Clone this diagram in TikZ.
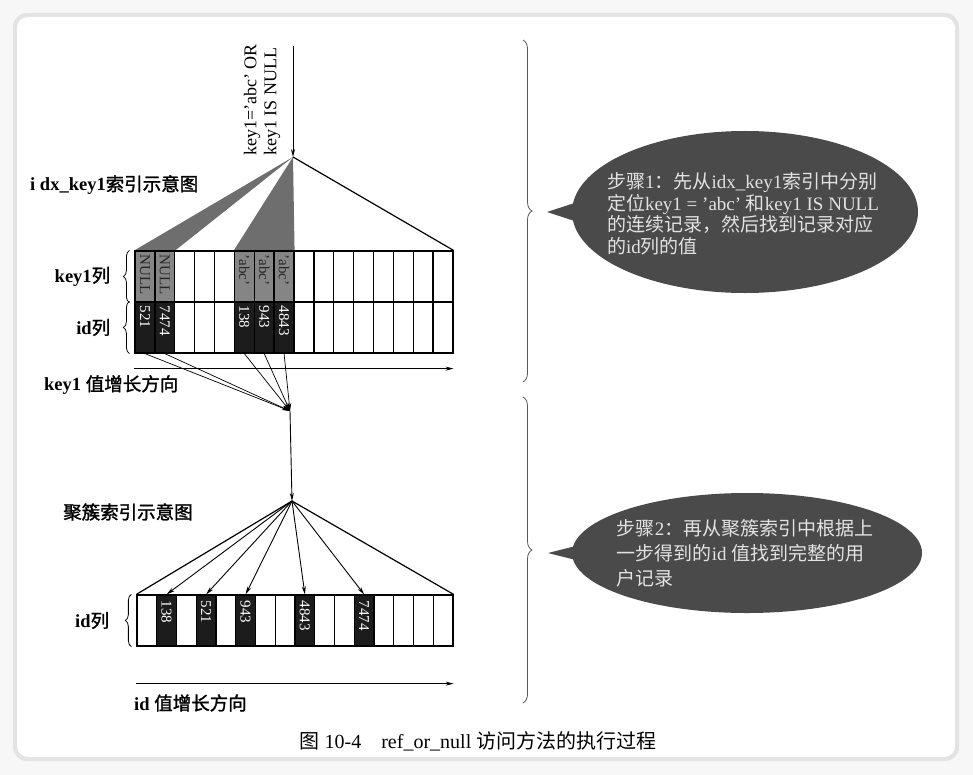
\documentclass[tikz,border=0pt]{standalone}
\usepackage{fontspec}
\setmainfont{Liberation Serif}
\newfontfamily\zh{Noto Sans CJK SC}[AutoFakeBold=1.5]
\usetikzlibrary{positioning,arrows.meta,shapes.callouts,decorations.pathreplacing}

\definecolor{keygray}{HTML}{858585}
\definecolor{idblack}{HTML}{1C1C1C}
\definecolor{wedgegray}{HTML}{6E6E6E}
\definecolor{bubble}{HTML}{4A4A4A}
\definecolor{bubbletext}{HTML}{E2E2E2}

\tikzset{
  cell/.style={draw, line width=1.2pt, minimum width=19.8pt, minimum height=51pt, inner sep=0pt},
  vtext/.style={rotate=-90, anchor=west, inner sep=0pt, font=\fontsize{15}{15}\selectfont},
  lbl/.style={font=\fontsize{18.5}{22}\selectfont\bfseries, inner sep=0pt},
  lcurly/.style={decorate, decoration={brace, amplitude=6pt}, line width=0.8pt},
  rcurly/.style={decorate, decoration={brace, amplitude=9pt}, line width=0.8pt, gray!70!black},
  bubblebox/.style={ellipse callout, fill=bubble, inner sep=0pt, callout pointer arc=12},
  bubbletxt/.style={align=left, text=bubbletext, inner sep=0pt}
}

\begin{document}
\begin{tikzpicture}[x=1pt, y=-1pt, >={Stealth[length=8pt,width=4pt]}]
\useasboundingbox (0,0) rectangle (973,775);
% frame
\fill[gray!6] (0,0) rectangle (973,775);
\fill[gray!22, rounded corners=14pt] (13,13) rectangle (959,761);
\fill[white, rounded corners=11pt] (17,17) rectangle (955,757);

% named points
\coordinate (qstart) at (293,46);
\coordinate (top) at (293,157);
\coordinate (hub) at (290,411);
\coordinate (apex) at (292,501);
\coordinate (tip1) at (547,212);
\coordinate (tip2) at (548,553);

% idx_key1 index, two rows
\foreach \j in {1,...,16}{
  \node[cell] (k\j) at ({135+(\j-0.5)*19.875},276.5) {};
  \node[cell] (i\j) at ({135+(\j-0.5)*19.875},327.5) {};
}
\foreach \j/\a/\b in {1/NULL/521, 2/NULL/7474, 6/'abc'/138, 7/'abc'/943, 8/'abc'/4843}{
  \node[cell, fill=keygray] (kf\j) at (k\j) {};
  \node[cell, fill=idblack] (if\j) at (i\j) {};
  \node[vtext, text=black!85] (kt\j) at ([yshift=-4pt]k\j.north) {\a};
  \node[vtext, text=white] (it\j) at ([yshift=-4pt]i\j.north) {\b};
}
\fill[wedgegray] (top) -- (k1.north west) -- (k2.north east) -- cycle;
\fill[wedgegray] (top) -- (k6.north west) -- (k8.north east) -- cycle;
\draw[line width=1.2pt] (top) -- (k16.north east);
\draw[line width=1.2pt] (k1.north west) -- (k16.north east);
\draw[->, line width=0.9pt] (qstart) -- (top);
\node[rotate=90, anchor=west, align=left, inner sep=0pt, font=\fontsize{18}{20}\selectfont] (cond) at (262,156) {key1='abc' OR\\key1 IS NULL};

\node[lbl, anchor=west] (idxtitle) at (30,185) {i dx\_key1{\zh 索引示意图}};
\draw[lcurly] ([xshift=-5pt]k1.south west) -- ([xshift=-5pt]k1.north west);
\draw[lcurly] ([xshift=-5pt]i1.south west) -- ([xshift=-5pt]i1.north west);
\node[lbl, left=24pt of k1.west] (keycol) {key1{\zh 列}};
\node[lbl, left=24pt of i1.west] (idcol) {id{\zh 列}};
\draw[->, line width=0.9pt] ([yshift=-15pt]i1.south west) -- ([yshift=-15pt]i16.south east);
\node[lbl, anchor=west] (keyaxis) at (44,385) {key1 {\zh 值增长方向}};

% found ids go to the clustered index
\foreach \j in {1,2,6,7,8}
  \draw[->, line width=0.7pt] (i\j.south) -- (hub);
\draw[->, line width=0.9pt] (hub) -- (apex);

% clustered index
\foreach \j in {1,...,16}
  \node[cell] (c\j) at ({137+(\j-0.5)*19.75},620.5) {};
\foreach \j/\v in {2/138, 4/521, 6/943, 9/4843, 12/7474}{
  \node[cell, fill=idblack] (cf\j) at (c\j) {};
  \node[vtext, text=white] (ct\j) at ([yshift=-6pt]c\j.north) {\v};
}
\draw[line width=1.2pt] (c1.north west) -- (apex) -- (c16.north east);
\foreach \j in {2,4,6,9,12}
  \draw[->, line width=0.9pt] (apex) -- (c\j.north);
\node[lbl, anchor=west] (cltitle) at (63,512) {\zh 聚簇索引示意图};
\draw[lcurly] ([xshift=-5pt]c1.south west) -- ([xshift=-5pt]c1.north west);
\node[lbl, left=27pt of c1.west] (cidcol) {id{\zh 列}};
\draw[->, line width=0.9pt] ([yshift=-37pt]c1.south west) -- ([yshift=-37pt]c16.south east);
\node[lbl, anchor=west] (idaxis) at (134,703) {id {\zh 值增长方向}};

% steps
\draw[rcurly] (523,40) coordinate (br1a) -- (523,382) coordinate (br1b);
\draw[rcurly] (523,397) coordinate (br2a) -- (523,703) coordinate (br2b);
\node[bubblebox, minimum width=346pt, minimum height=162pt, callout absolute pointer={(tip1)}] (step1) at (745,212) {};
\node[bubbletxt, font=\fontsize{19}{21.5}\selectfont] (step1txt) at (743,214)
  {{\zh 步骤}1{\zh ：先从}idx\_key1{\zh 索引中分别}\\
   {\zh 定位}key1 = 'abc' {\zh 和}key1 IS NULL\\
   {\zh 的连续记录，然后找到记录对应}\\
   {\zh 的}id{\zh 列的值}};
\node[bubblebox, minimum width=350pt, minimum height=120pt, callout absolute pointer={(tip2)}] (step2) at (747,553) {};
\node[bubbletxt, font=\fontsize{19}{25}\selectfont] (step2txt) at (745,553)
  {{\zh 步骤}2{\zh ：再从聚簇索引中根据上}\\
   {\zh 一步得到的}id {\zh 值找到完整的用}\\
   {\zh 户记录}};

\node[font=\fontsize{20}{24}\selectfont, inner sep=0pt] (caption) at (478,741)
  {{\zh 图} 10-4\quad ref\_or\_null {\zh 访问方法的执行过程}};
\end{tikzpicture}
\end{document}
